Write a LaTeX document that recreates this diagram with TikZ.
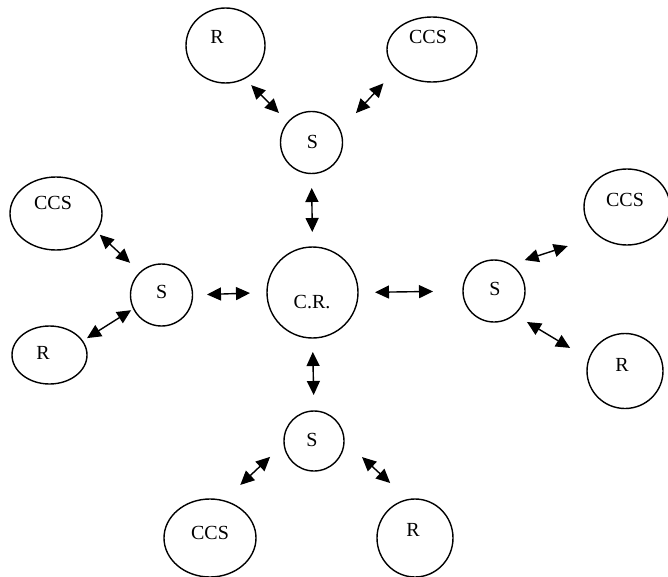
\documentclass[tikz,border=0pt]{standalone}
\usepackage{fontspec}
\setmainfont{Liberation Serif}
\usetikzlibrary{arrows.meta,shapes.geometric}
\begin{document}
\begin{tikzpicture}[x=1pt,y=-1pt,
  blob/.style={draw, ellipse, line width=1.4pt, inner sep=0pt, outer sep=0pt},
  lbl/.style={inner sep=0pt, font=\fontsize{20}{22}\selectfont},
  link/.style={line width=1.4pt, {Triangle[length=14pt,width=13pt]}-{Triangle[length=14pt,width=13pt]}}]
\useasboundingbox (0,0) rectangle (668,577);
% shapes
\node[blob, minimum width=91pt, minimum height=91pt] (CR) at (312.5,292.5) {};
\node[blob, minimum width=62pt, minimum height=62pt] (tS) at (311.5,142.5) {};
\node[blob, minimum width=62pt, minimum height=62pt] (lS) at (161.5,295) {};
\node[blob, minimum width=62pt, minimum height=62pt] (rS) at (494,291) {};
\node[blob, minimum width=60pt, minimum height=60pt] (bS) at (314,441) {};
\node[blob, minimum width=79pt, minimum height=75pt] (tR) at (225.5,45.5) {};
\node[blob, minimum width=90pt, minimum height=65pt] (tC) at (432,49.5) {};
\node[blob, minimum width=92pt, minimum height=73pt] (lC) at (56,213.5) {};
\node[blob, minimum width=75pt, minimum height=58pt] (lR) at (49.5,355) {};
\node[blob, minimum width=86pt, minimum height=76pt] (rC) at (627,207) {};
\node[blob, minimum width=76pt, minimum height=75pt] (rR) at (625,371) {};
\node[blob, minimum width=92pt, minimum height=78pt] (bC) at (210,538) {};
\node[blob, minimum width=76pt, minimum height=78pt] (bR) at (415,538) {};
% labels
\node[lbl] (CRt) at (312,302) {C.R.};
\node[lbl] (tSt) at (312.5,141.5) {S};
\node[lbl] (lSt) at (161.7,292) {S};
\node[lbl] (rSt) at (495,289) {S};
\node[lbl] (bSt) at (312,440) {S};
\node[lbl] (tRt) at (217,37) {R};
\node[lbl] (tCt) at (428,37) {CCS};
\node[lbl] (lCt) at (53,203) {CCS};
\node[lbl] (lRt) at (43,353) {R};
\node[lbl] (rCt) at (625,200) {CCS};
\node[lbl] (rRt) at (622,365) {R};
\node[lbl] (bCt) at (210,533) {CCS};
\node[lbl] (bRt) at (413,530) {R};
% connectors
\draw[link, shorten <=14.5pt, shorten >=15pt] (tS.-90) -- (CR.90);
\draw[link, shorten <=14.5pt, shorten >=17pt] (lS.0) -- (CR.180);
\draw[link, shorten <=17pt, shorten >=30pt] (CR.0) -- (rS.180);
\draw[link, shorten <=14pt, shorten >=16pt] (CR.-90) -- (bS.90);
\draw[link, shorten <=9.5pt, shorten >=13pt] (tR.-60) -- (tS.139);
\draw[link, shorten <=19pt, shorten >=23.5pt] (tC.-151) -- (tS.23);
\draw[link, shorten <=5pt, shorten >=14pt] (lC.-24) -- (lS.133);
\draw[link, shorten <=5.5pt, shorten >=3pt] (lR.23) -- (lS.-154);
\draw[link, shorten <=15pt, shorten >=33pt] (rS.58) -- (rC.-134);
\draw[link, shorten <=14.7pt, shorten >=22pt] (rS.-49) -- (rR.162);
\draw[link, shorten <=19.3pt, shorten >=23pt] (bS.-175) -- (bC.70);
\draw[link, shorten <=24.5pt, shorten >=24.5pt] (bS.1) -- (bR.100);
\end{tikzpicture}
\end{document}
